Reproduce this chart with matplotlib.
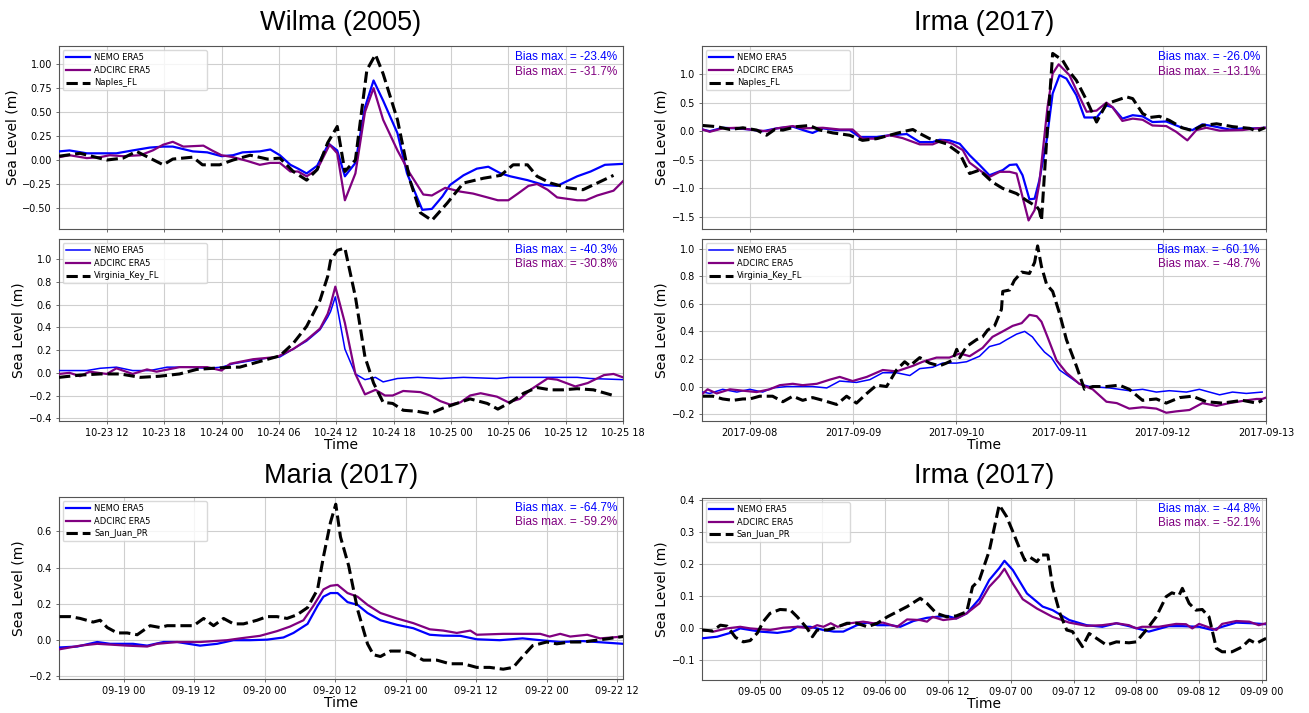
import pandas as pd
import matplotlib
matplotlib.use("Agg")
import matplotlib.pyplot as plt
import matplotlib.dates as mdates

# ---------------------- Wilma (2005) : hours since 2005-10-23 00:00 ----------------------
wilma_start = "2005-10-23"

wilma_naples_nemo_h = [7.0, 8.1, 9.9, 13.0, 14.7, 16.5, 17.9, 18.9, 21.0, 22.5, 24.0, 25.2, 26.2, 28.0, 29.1,
                       30.1, 31.2, 32.0, 32.9, 34.0, 35.2, 36.1, 36.9, 38.0, 39.0, 39.9, 40.9, 42.4, 43.4,
                       45.0, 46.0, 47.1, 47.9, 49.3, 50.7, 51.9, 53.2, 54.2, 56.0, 57.7, 59.1, 61.2, 62.6, 64.1, 66.0]
wilma_naples_nemo = [0.09, 0.10, 0.07, 0.07, 0.10, 0.13, 0.14, 0.14, 0.09, 0.08, 0.04, 0.05, 0.08, 0.09, 0.11,
                     0.05, -0.05, -0.09, -0.14, -0.06, 0.17, 0.10, -0.17, -0.03, 0.55, 0.83, 0.62, 0.28, -0.14,
                     -0.52, -0.51, -0.38, -0.26, -0.16, -0.09, -0.07, -0.14, -0.17, -0.21, -0.26, -0.27, -0.17, -0.12, -0.05, -0.04]
wilma_naples_adcirc_h = [7.0, 8.1, 9.9, 11.3, 12.3, 13.7, 15.5, 16.8, 17.9, 18.9, 20.0, 22.1, 23.0, 24.0, 25.2,
                         26.7, 28.0, 29.1, 30.1, 31.2, 32.0, 32.9, 34.0, 35.3, 36.1, 36.9, 38.0, 39.0, 39.9, 40.9,
                         42.4, 43.7, 45.1, 46.0, 47.4, 49.0, 50.3, 51.8, 52.9, 54.0, 55.0, 56.1, 57.0, 58.1, 59.1,
                         61.2, 62.1, 63.3, 65.0, 66.0]
wilma_naples_adcirc = [0.03, 0.05, 0.02, 0.03, 0.05, 0.04, 0.05, 0.10, 0.16, 0.19, 0.14, 0.15, 0.10, 0.05, 0.03,
                       -0.01, -0.05, -0.03, -0.03, -0.12, -0.12, -0.17, -0.10, 0.16, 0.07, -0.42, -0.14, 0.50, 0.75, 0.42,
                       0.10, -0.14, -0.36, -0.37, -0.29, -0.33, -0.35, -0.39, -0.42, -0.42, -0.35, -0.27, -0.25, -0.31, -0.39,
                       -0.42, -0.42, -0.37, -0.32, -0.22]
wilma_naples_obs_h = [7.0, 9.2, 12.0, 13.7, 15.1, 17.9, 18.9, 21.0, 22.0, 23.8, 25.2, 27.0, 28.8, 30.1, 31.5,
                      32.9, 34.0, 35.1, 36.1, 36.9, 38.0, 39.2, 40.1, 40.9, 42.4, 43.7, 44.8, 46.0, 47.6, 49.3,
                      51.4, 53.2, 54.5, 56.0, 57.0, 58.4, 60.2, 61.8, 63.3, 65.0]
wilma_naples_obs = [0.04, 0.07, 0.0, 0.02, 0.09, -0.05, 0.01, 0.03, -0.05, -0.05, 0.0, 0.05, 0.01, 0.02, -0.12,
                    -0.21, -0.10, 0.18, 0.35, -0.12, 0.0, 0.94, 1.10, 0.90, 0.42, -0.21, -0.55, -0.63, -0.45, -0.24,
                    -0.19, -0.16, -0.05, -0.05, -0.17, -0.24, -0.29, -0.31, -0.24, -0.16]

wilma_vk_nemo_h = [7.0, 9.9, 11.3, 13.0, 14.7, 16.5, 18.3, 20.4, 22.5, 24.0, 25.2, 27.3, 28.8, 30.1, 31.5,
                   32.9, 34.3, 35.1, 35.4, 35.9, 36.9, 38.0, 39.0, 40.1, 40.9, 42.4, 44.5, 46.9, 49.3, 52.8,
                   54.2, 59.7, 61.2, 62.6, 66.0]
wilma_vk_nemo = [0.02, 0.02, 0.04, 0.05, 0.02, 0.02, 0.05, 0.05, 0.04, 0.05, 0.08, 0.11, 0.13, 0.14, 0.21,
                 0.28, 0.38, 0.49, 0.54, 0.67, 0.21, -0.01, -0.06, -0.04, -0.08, -0.05, -0.04, -0.05, -0.04, -0.05,
                 -0.04, -0.04, -0.04, -0.05, -0.06]
wilma_vk_adcirc_h = [7.0, 8.1, 9.2, 10.2, 12.0, 13.0, 14.7, 16.2, 17.2, 19.6, 22.5, 24.0, 24.9, 27.3, 29.8,
                     31.5, 32.9, 34.3, 35.1, 35.4, 35.9, 36.9, 38.0, 39.0, 40.1, 41.1, 41.9, 43.0, 44.8, 45.8,
                     46.9, 47.9, 49.0, 50.0, 51.1, 52.8, 54.0, 55.2, 56.3, 58.1, 59.1, 61.0, 62.3, 64.0, 65.0, 66.0]
wilma_vk_adcirc = [-0.01, 0.0, -0.03, 0.01, -0.01, 0.04, -0.01, 0.03, 0.01, 0.05, 0.05, 0.02, 0.08, 0.12, 0.14,
                   0.21, 0.29, 0.39, 0.52, 0.60, 0.76, 0.44, -0.01, -0.19, -0.15, -0.20, -0.20, -0.16, -0.17, -0.20,
                   -0.25, -0.28, -0.26, -0.20, -0.18, -0.21, -0.26, -0.23, -0.15, -0.05, -0.06, -0.12, -0.09, -0.02, -0.01, -0.04]
wilma_vk_obs_h = [7.0, 9.2, 11.3, 13.4, 15.5, 17.5, 19.6, 21.4, 23.1, 25.2, 25.9, 28.0, 30.1, 31.5, 32.9,
                  34.3, 35.1, 35.4, 36.1, 36.9, 38.0, 39.0, 39.9, 40.9, 41.9, 43.0, 44.5, 45.8, 47.2, 48.6,
                  50.0, 51.8, 52.9, 54.2, 55.6, 57.0, 58.4, 59.7, 61.2, 62.9, 65.0]
wilma_vk_obs = [-0.04, -0.02, -0.01, -0.01, -0.04, -0.03, -0.01, 0.03, 0.04, 0.05, 0.05, 0.10, 0.15, 0.26, 0.41,
                0.64, 0.85, 0.99, 1.08, 1.10, 0.67, 0.14, -0.09, -0.26, -0.27, -0.33, -0.34, -0.36, -0.31, -0.27,
                -0.23, -0.27, -0.32, -0.26, -0.18, -0.13, -0.15, -0.15, -0.14, -0.15, -0.20]

# ---------------------- Irma (2017), Florida : hours since 2017-09-07 00:00 ----------------------
irma_fl_start = "2017-09-07"

irma_naples_nemo_h = [13.0, 14.7, 17.7, 21.0, 24.0, 27.0, 30.3, 34.0, 37.2, 38.6, 41.0, 44.2, 47.2, 49.5, 53.5,
                      56.5, 60.5, 63.5, 66.5, 68.1, 70.4, 72.8, 75.1, 77.4, 79.7, 82.8, 84.4, 86.0, 87.4, 89.0,
                      90.2, 91.3, 93.0, 94.4, 96.0, 97.6, 99.9, 101.8, 104.6, 106.9, 108.3, 110.6, 113.0, 115.3,
                      117.6, 120.8, 124.5, 126.9, 129.2, 131.5, 135.5, 138.5, 141.8, 143.7]
irma_naples_nemo = [0.03, 0.0, 0.06, 0.05, 0.03, 0.0, 0.05, 0.08, 0.0, -0.03, 0.05, 0.02, 0.02, -0.10, -0.10,
                    -0.07, -0.05, -0.19, -0.19, -0.15, -0.16, -0.22, -0.42, -0.59, -0.77, -0.68, -0.59, -0.58, -0.77, -1.19,
                    -1.18, -0.86, -0.16, 0.66, 0.98, 0.92, 0.63, 0.24, 0.24, 0.45, 0.42, 0.22, 0.28, 0.26,
                    0.16, 0.17, 0.06, 0.02, 0.12, 0.09, 0.03, 0.05, 0.05, 0.06]
irma_naples_adcirc_h = [13.0, 14.7, 17.7, 21.0, 24.0, 27.9, 30.3, 34.0, 36.3, 41.0, 44.9, 47.9, 50.2, 53.5, 56.5,
                        59.5, 63.5, 66.5, 68.8, 71.1, 73.5, 75.1, 77.4, 79.7, 82.1, 84.4, 86.0, 87.4, 88.8, 90.2,
                        91.3, 93.2, 94.4, 95.8, 98.3, 99.9, 102.3, 104.6, 106.9, 108.3, 110.6, 113.0, 115.3, 117.6,
                        120.8, 123.1, 125.7, 127.8, 130.1, 133.2, 138.5, 141.8, 143.7]
irma_naples_adcirc = [0.03, -0.01, 0.05, 0.06, 0.03, 0.0, 0.05, 0.09, 0.05, 0.06, 0.03, 0.03, -0.13, -0.13, -0.07,
                      -0.12, -0.23, -0.23, -0.16, -0.22, -0.33, -0.55, -0.68, -0.80, -0.71, -0.71, -0.74, -1.15, -1.56, -1.38,
                      -0.91, 0.42, 1.01, 1.17, 0.98, 0.72, 0.34, 0.36, 0.50, 0.42, 0.18, 0.22, 0.20, 0.10,
                      0.09, -0.01, -0.16, 0.02, 0.06, 0.01, 0.02, 0.05, 0.06]
irma_naples_obs_h = [13.1, 16.3, 19.4, 22.4, 25.6, 27.9, 29.8, 31.7, 34.9, 37.9, 40.3, 43.3, 47.2, 50.2, 53.5,
                     56.5, 59.5, 61.9, 63.5, 65.8, 69.7, 72.8, 75.1, 77.4, 80.4, 82.8, 86.0, 88.3, 90.7, 91.3,
                     91.8, 93.0, 94.4, 96.7, 98.3, 99.9, 102.3, 104.6, 106.9, 109.3, 111.6, 113.0, 115.3, 116.9,
                     119.2, 121.5, 124.5, 126.9, 129.2, 132.5, 136.2, 140.2, 141.8, 143.7]
irma_naples_obs = [0.10, 0.08, 0.03, 0.06, 0.02, -0.07, 0.03, 0.02, 0.08, 0.10, 0.02, -0.03, -0.07, -0.16, -0.13,
                   -0.07, -0.01, 0.03, -0.04, -0.13, -0.22, -0.39, -0.74, -0.68, -0.89, -1.00, -1.09, -1.21, -1.32, -1.38,
                   -1.56, -0.16, 1.36, 1.24, 1.04, 0.89, 0.54, 0.16, 0.48, 0.54, 0.60, 0.57, 0.31, 0.24,
                   0.26, 0.19, 0.06, 0.01, 0.10, 0.13, 0.08, 0.05, 0.0, 0.06]

irma_vk_nemo_h = [13.1, 14.7, 17.7, 21.0, 24.0, 27.0, 29.3, 32.6, 35.6, 38.6, 41.9, 44.9, 48.8, 51.9, 54.9,
                  58.1, 61.2, 63.5, 66.5, 68.8, 72.1, 74.4, 77.4, 79.7, 82.1, 83.7, 86.0, 87.9, 89.7, 90.9,
                  92.5, 94.1, 96.0, 98.3, 100.6, 103.0, 107.6, 112.2, 115.3, 118.5, 121.5, 125.5, 128.5, 133.2,
                  136.2, 139.4, 143.1]
irma_vk_nemo = [-0.04, -0.05, -0.02, -0.04, -0.02, -0.04, -0.01, 0.0, 0.0, 0.0, -0.01, 0.04, 0.03, 0.05, 0.10,
                0.10, 0.08, 0.13, 0.14, 0.17, 0.17, 0.18, 0.22, 0.29, 0.31, 0.34, 0.38, 0.40, 0.36, 0.31,
                0.25, 0.21, 0.12, 0.07, 0.02, 0.0, -0.01, -0.03, -0.02, -0.04, -0.03, -0.04, -0.02, -0.06,
                -0.04, -0.05, -0.04]
irma_vk_adcirc_h = [13.1, 14.2, 16.3, 19.4, 22.4, 25.6, 28.6, 31.0, 34.0, 36.3, 39.6, 42.6, 44.9, 47.9, 51.2,
                    54.9, 58.1, 61.9, 64.2, 67.4, 70.4, 72.8, 75.1, 78.1, 80.4, 82.8, 85.1, 87.2, 89.0, 90.7,
                    91.8, 93.2, 95.3, 97.6, 100.6, 103.7, 106.9, 109.3, 112.2, 115.3, 118.5, 120.8, 123.1, 126.2,
                    129.2, 132.5, 135.5, 139.4, 141.8, 143.1, 144.0]
irma_vk_adcirc = [-0.05, -0.02, -0.05, -0.02, -0.03, -0.04, -0.02, 0.01, 0.02, 0.01, 0.02, 0.05, 0.07, 0.04, 0.07,
                  0.12, 0.11, 0.15, 0.18, 0.21, 0.21, 0.24, 0.22, 0.28, 0.36, 0.40, 0.44, 0.46, 0.52, 0.51,
                  0.47, 0.36, 0.19, 0.10, 0.02, -0.02, -0.11, -0.12, -0.16, -0.15, -0.16, -0.19, -0.18, -0.17,
                  -0.12, -0.14, -0.12, -0.10, -0.09, -0.09, -0.08]
irma_vk_obs_h = [13.1, 15.4, 17.7, 20.1, 22.4, 24.0, 26.3, 29.3, 31.7, 34.0, 36.3, 38.6, 41.0, 44.2, 46.5,
                 48.8, 51.2, 53.5, 55.8, 58.1, 60.0, 61.2, 63.5, 65.8, 68.1, 69.7, 71.1, 72.1, 72.8, 74.4,
                 76.7, 78.1, 79.3, 80.9, 82.5, 82.8, 84.4, 85.5, 87.2, 89.0, 90.2, 90.9, 91.8, 93.0, 94.4,
                 96.0, 97.6, 99.9, 101.8, 103.7, 106.9, 109.9, 112.2, 115.3, 118.5, 120.8, 123.9, 126.9, 130.1,
                 133.8, 138.5, 141.8, 143.1]
irma_vk_obs = [-0.07, -0.07, -0.09, -0.10, -0.09, -0.09, -0.07, -0.07, -0.11, -0.07, -0.10, -0.08, -0.10, -0.13, -0.07,
               -0.12, -0.05, 0.01, 0.0, 0.12, 0.18, 0.15, 0.21, 0.17, 0.15, 0.17, 0.19, 0.27, 0.21, 0.29,
               0.34, 0.36, 0.41, 0.44, 0.56, 0.69, 0.70, 0.77, 0.83, 0.82, 0.90, 1.02, 0.87, 0.74, 0.69,
               0.53, 0.34, 0.15, -0.02, 0.0, 0.0, 0.01, -0.02, -0.10, -0.09, -0.12, -0.08, -0.07, -0.11,
               -0.12, -0.10, -0.12, -0.10]

# ---------------------- Maria (2017) : hours since 2017-09-18 00:00 ----------------------
maria_start = "2017-09-18"

maria_nemo_h = [13.1, 16.1, 19.5, 21.7, 25.6, 28.0, 30.8, 33.1, 37.0, 39.9, 42.7, 45.5, 48.4, 51.2, 52.9,
                55.3, 57.0, 58.0, 59.2, 60.4, 62.1, 63.8, 65.5, 67.7, 70.5, 73.3, 76.1, 78.4, 81.3, 84.1,
                88.0, 91.9, 94.9, 98.3, 102.2, 104.5, 109.0]
maria_nemo = [-0.04, -0.035, -0.01, -0.02, -0.02, -0.03, -0.01, -0.01, -0.03, -0.02, 0.0, 0.0, 0.003, 0.015, 0.04,
              0.09, 0.19, 0.24, 0.26, 0.26, 0.21, 0.195, 0.15, 0.11, 0.085, 0.066, 0.03, 0.025, 0.024, 0.005,
              0.0, 0.01, 0.0, -0.01, -0.005, -0.01, -0.02]
maria_adcirc_h = [13.1, 16.6, 19.5, 24.6, 28.0, 29.7, 33.1, 37.0, 41.6, 43.8, 47.2, 50.1, 52.3, 54.6, 56.3,
                  58.0, 59.2, 60.4, 62.1, 63.8, 65.5, 67.7, 70.5, 73.3, 76.1, 78.4, 80.7, 83.0, 84.1, 88.6,
                  90.9, 94.9, 96.5, 98.3, 100.0, 102.9, 105.1, 109.0]
maria_adcirc = [-0.05, -0.03, -0.02, -0.03, -0.035, -0.02, -0.01, -0.01, 0.0, 0.01, 0.024, 0.05, 0.075, 0.11, 0.19,
                0.28, 0.30, 0.305, 0.26, 0.24, 0.195, 0.15, 0.12, 0.094, 0.06, 0.053, 0.04, 0.053, 0.03, 0.035,
                0.035, 0.035, 0.02, 0.035, 0.02, 0.03, 0.01, 0.02]
maria_obs_h = [13.1, 14.9, 16.6, 18.8, 20.0, 21.2, 22.9, 24.6, 26.3, 28.5, 30.2, 31.4, 34.2, 35.9, 37.6,
               39.3, 41.0, 42.7, 44.4, 46.7, 48.4, 50.1, 51.8, 53.5, 55.3, 57.0, 58.0, 59.2, 60.1, 60.9,
               62.3, 63.8, 65.5, 66.5, 67.7, 69.4, 71.1, 72.7, 75.0, 77.3, 79.5, 81.8, 84.1, 86.3, 88.6,
               90.3, 91.9, 93.6, 96.0, 97.7, 100.0, 102.2, 104.5, 106.8, 109.0]
maria_obs = [0.13, 0.13, 0.12, 0.10, 0.11, 0.07, 0.04, 0.04, 0.03, 0.08, 0.07, 0.08, 0.08, 0.08, 0.12,
             0.08, 0.12, 0.09, 0.09, 0.11, 0.13, 0.13, 0.12, 0.14, 0.18, 0.28, 0.46, 0.65, 0.75, 0.57,
             0.41, 0.17, -0.02, -0.08, -0.09, -0.06, -0.06, -0.07, -0.11, -0.11, -0.13, -0.13, -0.15, -0.15, -0.16,
             -0.15, -0.09, -0.03, -0.01, -0.02, -0.01, -0.01, 0.0, 0.01, 0.02]

# ---------------------- Irma (2017), San Juan : hours since 2017-09-04 00:00 ----------------------
irma_pr_start = "2017-09-04"

irma_sj_nemo_h = [13.0, 15.9, 18.4, 20.3, 22.2, 24.1, 27.4, 29.9, 31.2, 33.7, 36.2, 38.2, 40.0, 42.6, 44.6,
                  46.5, 49.0, 50.9, 53.4, 56.0, 57.8, 59.8, 61.6, 63.6, 66.0, 67.9, 69.8, 70.8, 72.4, 75.1,
                  78.1, 80.0, 83.2, 86.5, 89.5, 92.2, 94.6, 98.4, 102.2, 104.8, 108.0, 110.5, 112.4, 115.1,
                  118.1, 120.8]
irma_sj_nemo = [-0.033, -0.028, -0.016, -0.002, -0.007, -0.012, -0.016, -0.01, 0.003, 0.003, -0.007, -0.012, -0.012, 0.008, 0.016,
                0.008, 0.008, 0.003, 0.021, 0.031, 0.034, 0.037, 0.029, 0.045, 0.09, 0.149, 0.186, 0.209, 0.18, 0.107,
                0.066, 0.055, 0.024, 0.008, 0.003, 0.014, 0.005, -0.012, 0.005, 0.005, 0.003, -0.007, 0.003, 0.016,
                0.014, 0.011]
irma_sj_adcirc_h = [13.0, 15.2, 17.8, 20.3, 22.2, 26.0, 28.5, 31.2, 33.7, 35.0, 36.2, 37.6, 38.9, 41.3, 43.8,
                    45.7, 47.6, 50.3, 52.2, 54.7, 56.0, 57.1, 59.1, 61.6, 63.6, 66.0, 67.9, 69.8, 70.8, 72.4,
                    74.3, 77.0, 80.0, 83.2, 86.5, 89.5, 92.2, 94.6, 96.0, 97.1, 100.3, 103.6, 105.5, 106.7,
                    108.0, 109.9, 111.3, 112.4, 115.1, 117.6, 119.4, 120.8]
irma_sj_adcirc = [-0.007, -0.012, -0.002, 0.003, -0.002, -0.007, 0.0, 0.003, -0.002, 0.008, 0.003, 0.014, 0.003, 0.014, 0.019,
                  0.014, 0.016, 0.003, 0.026, 0.024, 0.019, 0.034, 0.024, 0.029, 0.045, 0.076, 0.128, 0.161, 0.184, 0.138,
                  0.089, 0.06, 0.034, 0.016, 0.006, 0.008, 0.014, 0.008, -0.002, 0.003, 0.003, 0.012, 0.011, -0.002,
                  0.012, 0.001, -0.007, 0.012, 0.021, 0.019, 0.008, 0.014]
irma_sj_obs_h = [13.0, 15.0, 16.5, 17.8, 19.4, 20.9, 22.2, 23.6, 24.7, 26.0, 27.9, 29.9, 31.2, 33.1, 34.1,
                 35.0, 37.0, 38.9, 40.7, 42.6, 44.6, 46.5, 48.4, 50.3, 52.2, 54.7, 56.0, 57.8, 59.8, 61.6,
                 63.6, 64.7, 66.0, 67.9, 69.8, 71.2, 72.4, 73.8, 74.7, 75.7, 77.0, 78.0, 79.1, 80.0, 81.4,
                 82.7, 83.8, 85.7, 87.0, 88.4, 90.3, 92.2, 94.6, 96.0, 97.9, 99.8, 101.7, 102.8, 104.2,
                 104.8, 106.1, 107.4, 108.6, 109.9, 111.3, 112.4, 114.3, 116.2, 117.6, 118.9, 120.8]
irma_sj_obs = [-0.007, -0.01, 0.008, 0.005, -0.03, -0.044, -0.04, -0.016, 0.019, 0.045, 0.057, 0.055, 0.034, -0.002, -0.028,
               -0.007, -0.007, 0.003, 0.014, 0.014, 0.003, 0.014, 0.034, 0.05, 0.066, 0.092, 0.076, 0.045, 0.034, 0.037,
               0.05, 0.128, 0.149, 0.24, 0.383, 0.347, 0.30, 0.243, 0.21, 0.22, 0.206, 0.227, 0.227, 0.128, 0.045,
               -0.007, -0.012, -0.059, -0.018, -0.033, -0.054, -0.044, -0.047, -0.044, -0.007, 0.034, 0.097, 0.109, 0.102,
               0.123, 0.076, 0.055, 0.057, 0.034, -0.064, -0.075, -0.075, -0.06, -0.038, -0.049, -0.033]

# ---------------------- Panel labels ----------------------
bias_wilma_naples = ["-23.4%", "-31.7%"]
bias_wilma_vk = ["-40.3%", "-30.8%"]
bias_irma_naples = ["-26.0%", "-13.1%"]
bias_irma_vk = ["-60.1%", "-48.7%"]
bias_maria = ["-64.7%", "-59.2%"]
bias_irma_sj = ["-44.8%", "-52.1%"]

TITLE_FONT = ["Liberation Sans", "DejaVu Sans"]


def to_time(start, hours):
    return pd.Timestamp(start) + pd.to_timedelta(hours, unit="h")


def draw_panel(ax, start, nemo, adcirc, obs, station, bias, xlim_h, ylim, nemo_lw=1.6):
    ax.plot(to_time(start, nemo[0]), nemo[1], color="blue", lw=nemo_lw, label="NEMO ERA5", zorder=3)
    ax.plot(to_time(start, adcirc[0]), adcirc[1], color="purple", lw=1.6, label="ADCIRC ERA5", zorder=3)
    ax.plot(to_time(start, obs[0]), obs[1], color="black", lw=2.2, ls="--", label=station, zorder=4)
    ax.set_xlim(to_time(start, xlim_h[0]), to_time(start, xlim_h[1]))
    ax.set_ylim(*ylim)
    ax.grid(True, color="#cfcfcf", lw=0.8)
    ax.set_axisbelow(True)
    for s in ax.spines.values():
        s.set_color("#555555")
        s.set_linewidth(0.8)
    ax.tick_params(labelsize=7, length=2.5, width=0.6, pad=2.5, color="#555555")
    ax.set_ylabel("Sea Level (m)", fontsize=10, labelpad=2)
    ax.legend(loc="upper left", bbox_to_anchor=(0.0066, 0.778, 0.256, 0.2), mode="expand",
              borderaxespad=0, fontsize=6, handlelength=2.9, handletextpad=0.5, labelspacing=0.45,
              borderpad=0.35, framealpha=0.8, edgecolor="#d0d0d0", fancybox=True)
    ax.text(0.989, 0.975, "Bias max. = " + bias[0], color="blue", fontsize=8.5, family=TITLE_FONT,
            ha="right", va="top", transform=ax.transAxes)
    ax.text(0.989, 0.893, "Bias max. = " + bias[1], color="purple", fontsize=8.5, family=TITLE_FONT,
            ha="right", va="top", transform=ax.transAxes)


fig = plt.figure(figsize=(13.09, 7.13), dpi=100)
left_x, right_x, w = 0.0451, 0.5363, 0.4309
ax_wn = fig.add_axes([left_x, 0.6788, w, 0.2567])
ax_wv = fig.add_axes([left_x, 0.4095, w, 0.2553])
ax_in = fig.add_axes([right_x, 0.6788, w, 0.2567])
ax_iv = fig.add_axes([right_x, 0.4095, w, 0.2553])
ax_m = fig.add_axes([left_x, 0.0477, w, 0.2553])
ax_is = fig.add_axes([right_x, 0.0463, w, 0.2553])

draw_panel(ax_wn, wilma_start, (wilma_naples_nemo_h, wilma_naples_nemo), (wilma_naples_adcirc_h, wilma_naples_adcirc),
           (wilma_naples_obs_h, wilma_naples_obs), "Naples_FL", bias_wilma_naples, (7, 66), (-0.72, 1.19))
draw_panel(ax_wv, wilma_start, (wilma_vk_nemo_h, wilma_vk_nemo), (wilma_vk_adcirc_h, wilma_vk_adcirc),
           (wilma_vk_obs_h, wilma_vk_obs), "Virginia_Key_FL", bias_wilma_vk, (7, 66), (-0.425, 1.18), nemo_lw=1.1)
draw_panel(ax_in, irma_fl_start, (irma_naples_nemo_h, irma_naples_nemo), (irma_naples_adcirc_h, irma_naples_adcirc),
           (irma_naples_obs_h, irma_naples_obs), "Naples_FL", bias_irma_naples, (12.9, 144), (-1.71, 1.49))
draw_panel(ax_iv, irma_fl_start, (irma_vk_nemo_h, irma_vk_nemo), (irma_vk_adcirc_h, irma_vk_adcirc),
           (irma_vk_obs_h, irma_vk_obs), "Virginia_Key_FL", bias_irma_vk, (12.9, 144), (-0.25, 1.07), nemo_lw=1.1)
draw_panel(ax_m, maria_start, (maria_nemo_h, maria_nemo), (maria_adcirc_h, maria_adcirc),
           (maria_obs_h, maria_obs), "San_Juan_PR", bias_maria, (13, 109), (-0.214, 0.79))
draw_panel(ax_is, irma_pr_start, (irma_sj_nemo_h, irma_sj_nemo), (irma_sj_adcirc_h, irma_sj_adcirc),
           (irma_sj_obs_h, irma_sj_obs), "San_Juan_PR", bias_irma_sj, (13, 120.8), (-0.163, 0.405))

# time axes
for ax in (ax_wn, ax_wv):
    ax.xaxis.set_major_locator(mdates.HourLocator(byhour=[0, 6, 12, 18]))
    ax.xaxis.set_major_formatter(mdates.DateFormatter("%m-%d %H"))
for ax in (ax_in, ax_iv):
    ax.xaxis.set_major_locator(mdates.DayLocator())
    ax.xaxis.set_major_formatter(mdates.DateFormatter("%Y-%m-%d"))
for ax in (ax_m, ax_is):
    ax.xaxis.set_major_locator(mdates.HourLocator(byhour=[0, 12]))
    ax.xaxis.set_major_formatter(mdates.DateFormatter("%m-%d %H"))
for ax in (ax_wn, ax_in):
    ax.tick_params(labelbottom=False)
for ax in (ax_wv, ax_iv, ax_m, ax_is):
    ax.set_xlabel("Time", fontsize=10, labelpad=0)

fig.text(0.2605, 0.968, "Wilma (2005)", fontsize=19.5, family=TITLE_FONT, ha="center", va="center")
fig.text(0.752, 0.968, "Irma (2017)", fontsize=19.5, family=TITLE_FONT, ha="center", va="center")
fig.text(0.2605, 0.3324, "Maria (2017)", fontsize=19.5, family=TITLE_FONT, ha="center", va="center")
fig.text(0.752, 0.3324, "Irma (2017)", fontsize=19.5, family=TITLE_FONT, ha="center", va="center")

fig.savefig("out.png", dpi=100)
